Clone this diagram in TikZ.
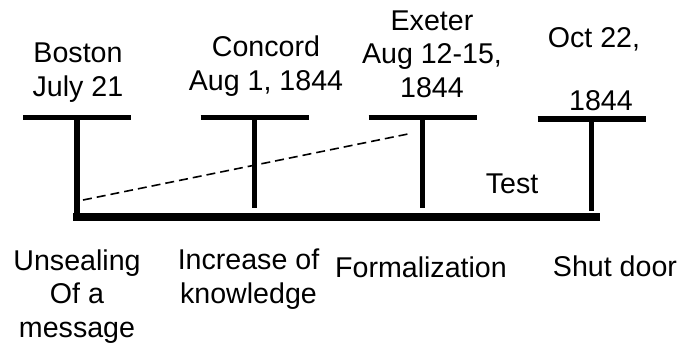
\documentclass[tikz,border=0pt]{standalone}
\usepackage{fontspec}
\setmainfont{Liberation Sans}
\begin{document}
\begin{tikzpicture}[x=0.5pt,y=-0.5pt,
  lbl/.style={font=\fontsize{14.3pt}{16.75pt}\selectfont, align=center, anchor=base, inner sep=0pt},
  bar/.style={line width=2.6pt},
  axis/.style={line width=4pt},
  hint/.style={line width=0.8pt, dash pattern=on 4.5pt off 2.5pt}]
  \useasboundingbox (0,0) rectangle (682,345);

  % tops of the four T markers and the feet of their stems
  \coordinate (t1) at (77,117.5);
  \coordinate (t2) at (254.5,117.5);
  \coordinate (t3) at (422.5,117.5);
  \coordinate (t4) at (591.5,119);
  \coordinate (f1) at (77,213);
  \coordinate (f2) at (254.5,208);
  \coordinate (f3) at (422.5,208);
  \coordinate (f4) at (591.5,211);

  % time axis
  \coordinate (axL) at (73,217);
  \coordinate (axR) at (600,217);
  \draw[axis] (axL) -- (axR);

  % T markers
  \foreach \t/\f in {t1/f1,t2/f2,t3/f3,t4/f4}{
    \draw[bar] ([xshift=-27pt]\t) -- ([xshift=27pt]\t);
    \draw[bar] (\t) -- (\f);
  }

  % dashed link
  \coordinate (dA) at (83,200);
  \coordinate (dB) at (408,134);
  \draw[hint] (dA) -- (dB);

  % place and date labels (anchored at the baseline of the last line)
  \node[lbl] (boston)  at (78,96)   {Boston\\July 21};
  \node[lbl] (concord) at (266,90)  {Concord\\Aug 1, 1844};
  \node[lbl] (exeter)  at (432,97)  {Exeter\\Aug 12-15,\\1844};
  \node[lbl] (oct)     at (594,110) {Oct 22,\\[14.5pt]\hspace*{7pt}1844};
  \node[lbl] (test)    at (512,193) {Test};

  % phase labels
  \node[lbl] (unseal)  at (77,337)    {Unsealing\\Of a\\message};
  \node[lbl] (incr)    at (248.5,303) {Increase of\\knowledge};
  \node[lbl] (formal)  at (421,277)   {Formalization};
  \node[lbl] (shut)    at (615,276)   {Shut door};
\end{tikzpicture}
\end{document}
